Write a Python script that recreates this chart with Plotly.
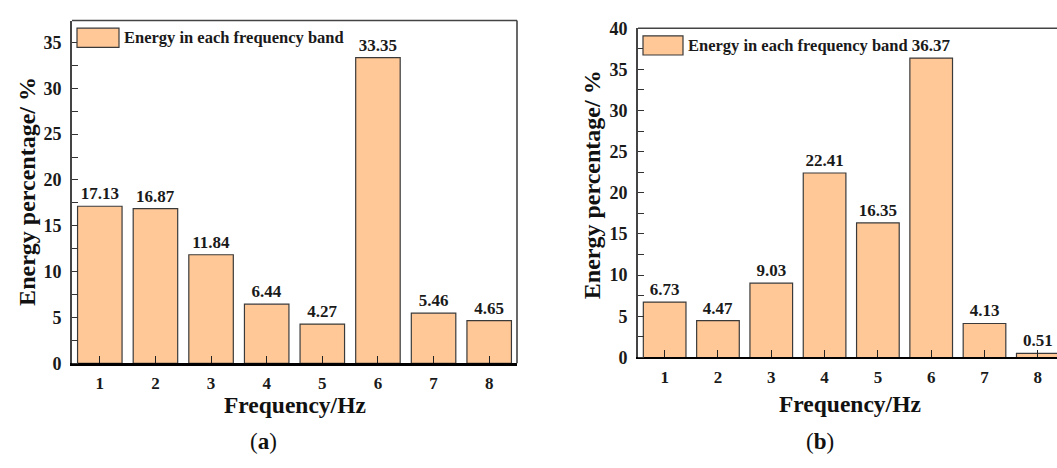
import plotly.graph_objects as go

# Energy share (%) of each frequency band for the two cases
freq_bands = [1, 2, 3, 4, 5, 6, 7, 8]
energy_a = [17.13, 16.87, 11.84, 6.44, 4.27, 33.35, 5.46, 4.65]
energy_b = [6.73, 4.47, 9.03, 22.41, 16.35, 36.37, 4.13, 0.51]
y_ticks_a = [0, 5, 10, 15, 20, 25, 30, 35]
y_ticks_b = [0, 5, 10, 15, 20, 25, 30, 35, 40]
legend_name = "Energy in each frequency band"

FONT = "Liberation Serif"
BAR_FILL = "#FFC896"
BAR_EDGE = "#3a3a3a"
W, H = 1057, 468

fig = go.Figure()

for vals, xa, ya in [(energy_a, "x", "y"), (energy_b, "x2", "y2")]:
    fig.add_trace(go.Bar(
        x=freq_bands, y=vals, xaxis=xa, yaxis=ya, width=0.8,
        marker=dict(color=BAR_FILL, line=dict(color=BAR_EDGE, width=1.2)),
        text=[f"{v:.2f}" for v in vals], textposition="outside",
        constraintext="none", cliponaxis=False,
        textfont=dict(family=FONT, size=17, color="#1a1a1a", weight="bold"),
        showlegend=False, name=legend_name,
    ))

# panel geometry in pixels
pa = dict(x0=72, x1=517, y0=11, y1=369)
pb = dict(x0=638, x1=1057, y0=19, y1=363)


def dom_x(p):
    return [p["x0"] / W, p["x1"] / W]


def dom_y(p):
    return [(H - p["y1"]) / H, (H - p["y0"]) / H]


tickfont = dict(family=FONT, size=18, color="#1a1a1a", weight="bold")

common_x = dict(
    tickmode="array", tickvals=freq_bands, ticktext=[str(v) for v in freq_bands],
    ticks="inside", ticklen=7, tickwidth=1.3, tickcolor="#222",
    showline=True, linecolor="#000", mirror=False, showgrid=False,
    zeroline=False, tickfont=dict(tickfont, size=17), fixedrange=True, ticklabelstandoff=3,
)
common_y = dict(
    ticks="", showline=True, linecolor="#444", linewidth=1.6, mirror=False,
    showgrid=False, zeroline=False, tickfont=tickfont, ticklabelstandoff=5,
    minor=dict(ticks="inside", ticklen=6, tickwidth=1.2, tickcolor="#333", dtick=2.5, tick0=2.5),
)

fig.update_layout(
    width=W, height=H, margin=dict(l=0, r=0, t=0, b=0),
    paper_bgcolor="white", plot_bgcolor="white",
    bargap=0.2,
    xaxis=dict(domain=dom_x(pa), range=[0.5, 8.5], anchor="y", linewidth=2.6, **common_x),
    yaxis=dict(domain=dom_y(pa), range=[0, 37.4], anchor="x", tickvals=y_ticks_a, **common_y),
    xaxis2=dict(domain=dom_x(pb), range=[0.5, 8.36], anchor="y2", linewidth=2.0, **common_x),
    yaxis2=dict(domain=dom_y(pb), range=[0, 40], anchor="x2", tickvals=y_ticks_b, **common_y),
)


def px_x(v):
    return v / W


def px_y(v):
    return 1 - v / H


shapes = []
annotations = []

# frame lines on top / right of each panel
shapes.append(dict(type="line", xref="paper", yref="paper",
                   x0=px_x(pa["x0"]), x1=px_x(pa["x1"]), y0=px_y(pa["y0"]), y1=px_y(pa["y0"]),
                   line=dict(color="#444", width=1.6)))
shapes.append(dict(type="line", xref="paper", yref="paper",
                   x0=px_x(pa["x1"]), x1=px_x(pa["x1"]), y0=px_y(pa["y0"]), y1=px_y(pa["y1"]),
                   line=dict(color="#444", width=1.6)))
shapes.append(dict(type="line", xref="paper", yref="paper",
                   x0=px_x(pb["x0"]), x1=1.0, y0=px_y(pb["y0"]), y1=px_y(pb["y0"]),
                   line=dict(color="#444", width=1.6)))

# legend swatches and labels
for (sx0, sy0, sx1, sy1, tx) in [(77, 19, 119, 39, 122), (643, 27, 683, 47, 686)]:
    shapes.append(dict(type="rect", xref="paper", yref="paper",
                       x0=px_x(sx0), x1=px_x(sx1), y0=px_y(sy1), y1=px_y(sy0),
                       fillcolor=BAR_FILL, line=dict(color=BAR_EDGE, width=1.2)))
    annotations.append(dict(text=legend_name, xref="paper", yref="paper",
                            x=px_x(tx), y=px_y((sy0 + sy1) / 2), xanchor="left", yanchor="middle",
                            showarrow=False,
                            font=dict(family=FONT, size=16.5, color="#1a1a1a", weight="bold")))

# axis titles
for cx, cy in [(27, 190), (592, 183)]:
    annotations.append(dict(text="Energy percentage/ %", xref="paper", yref="paper",
                            x=px_x(cx), y=px_y(cy), xanchor="center", yanchor="middle",
                            textangle=-90, showarrow=False,
                            font=dict(family=FONT, size=24, color="#111", weight="bold")))
for cx, cy in [(295, 413), (850, 412)]:
    annotations.append(dict(text="Frequency/Hz", xref="paper", yref="paper",
                            x=px_x(cx), y=px_y(cy), xanchor="center", yanchor="middle",
                            showarrow=False,
                            font=dict(family=FONT, size=23.5, color="#111", weight="bold")))

# panel captions
for lab, cx in [("a", 263), ("b", 820)]:
    annotations.append(dict(text=f"(<b>{lab}</b>)", xref="paper", yref="paper",
                            x=px_x(cx), y=px_y(451), xanchor="center", yanchor="middle",
                            showarrow=False, font=dict(family=FONT, size=23, color="#111")))

fig.update_layout(shapes=shapes, annotations=annotations)
fig.write_html("out.html")
